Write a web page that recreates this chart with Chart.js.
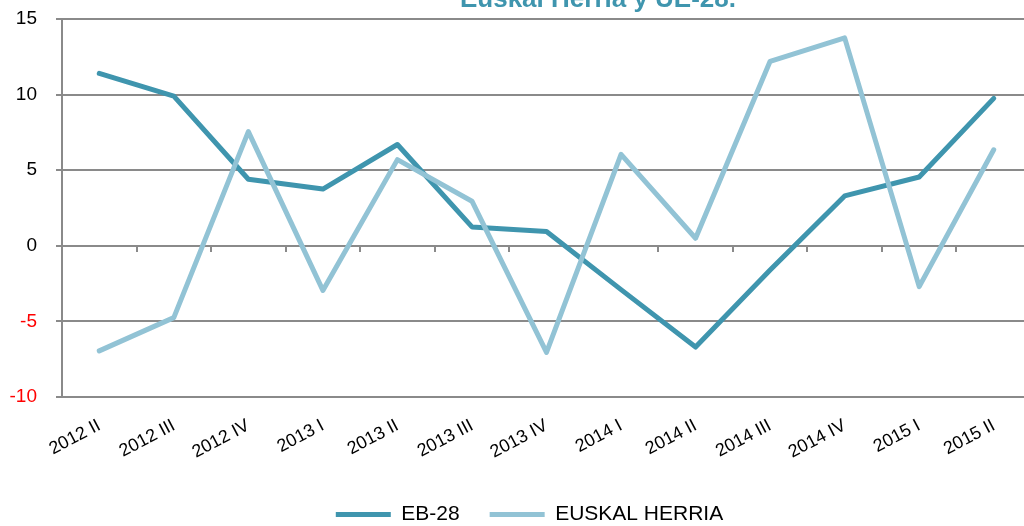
<!DOCTYPE html>
<html>
<head>
<meta charset="utf-8">
<script src="https://cdn.jsdelivr.net/npm/chart.js@4"></script>
<style>
  html, body { margin: 0; padding: 0; background: #fff; overflow: hidden; }
  #wrap { position: relative; width: 1024px; height: 526px; overflow: hidden; }
  #box { position: absolute; left: 0; top: 0; width: 1070px; height: 535px; }
  #title {
    position: absolute; left: 598px; top: -15px; transform: translateX(-50%);
    font: bold 26px "Liberation Sans", Arial, sans-serif; line-height: 26px;
    color: #3f95ae; white-space: nowrap;
  }
</style>
</head>
<body>
<div id="wrap">
  <div id="box"><canvas id="chart"></canvas></div>
  <div id="title">Euskal Herria y UE-28.</div>
</div>
<script>
const quarters = ["2012 II", "2012 III", "2012 IV", "2013 I", "2013 II", "2013 III", "2013 IV",
  "2014 I", "2014 II", "2014 III", "2014 IV", "2015 I", "2015 II"];
const eb28 = [11.4, 9.9, 4.4, 3.75, 6.7, 1.25, 0.95, -2.9, -6.7, -1.6, 3.3, 4.55, 9.75];
const euskalHerria = [-6.95, -4.75, 7.55, -2.95, 5.7, 2.95, -7.05, 6.05, 0.5, 12.2, 13.75, -2.7, 6.35];
const yTicks = [-10, -5, 0, 5, 10, 15];

const darkBlue = "#3f95ae";
const lightBlue = "#92c3d5";
const gridGray = "#8a8a8a";
const font = "'Liberation Sans', Arial, sans-serif";

// legend sits a bit right of the canvas centre in the original
const legendShift = {
  id: "legendShift",
  afterLayout(chart) {
    chart.legend.left += 14;
    chart.legend.right += 14;
  }
};

const ctx = document.getElementById("chart").getContext("2d");
new Chart(ctx, {
  type: "line",
  data: {
    labels: quarters,
    datasets: [
      {
        label: "EUSKAL HERRIA",
        data: euskalHerria,
        borderColor: lightBlue,
        backgroundColor: lightBlue,
        borderWidth: 5,
        borderCapStyle: "round",
        borderJoinStyle: "round",
        pointRadius: 0,
        tension: 0
      },
      {
        label: "EB-28",
        data: eb28,
        borderColor: darkBlue,
        backgroundColor: darkBlue,
        borderWidth: 5,
        borderCapStyle: "round",
        borderJoinStyle: "round",
        pointRadius: 0,
        tension: 0
      }
    ]
  },
  plugins: [legendShift],
  options: {
    responsive: true,
    maintainAspectRatio: false,
    animation: false,
    layout: { padding: { top: 19, right: 39, left: 0, bottom: 0 } },
    plugins: {
      tooltip: { enabled: false },
      legend: {
        position: "bottom",
        reverse: true,
        labels: {
          usePointStyle: true,
          pointStyle: "line",
          pointStyleWidth: 55,
          padding: 30,
          color: "#000",
          font: { family: font, size: 21, lineHeight: 1 }
        }
      }
    },
    scales: {
      x: {
        position: "bottom",
        offset: true,
        grid: { display: false },
        border: { display: false },
        ticks: {
          color: "#000",
          font: { family: font, size: 18 },
          maxRotation: 28,
          minRotation: 28,
          padding: 10,
          autoSkip: false
        },
        afterFit: (scale) => { scale.height = 77; }
      },
      x0: {
        type: "category",
        labels: quarters,
        position: { y: 0 },
        offset: true,
        grid: { offset: true, drawOnChartArea: false, drawTicks: true, tickLength: 6, color: gridGray, lineWidth: 2 },
        border: { display: false },
        ticks: { display: false }
      },
      y: {
        min: -10,
        max: 15,
        afterBuildTicks: (scale) => { scale.ticks = yTicks.map(v => ({ value: v })); },
        grid: { color: gridGray, lineWidth: 2, tickLength: 6 },
        border: { display: true, color: gridGray, width: 2 },
        ticks: {
          padding: 19,
          font: { family: font, size: 19 },
          color: (c) => c.tick.value < 0 ? "#ff0000" : "#000"
        },
        afterFit: (scale) => {
          scale.width = 62;
          scale.paddingTop = 0;
          scale.paddingBottom = 0;
        }
      }
    }
  }
});
</script>
</body>
</html>
